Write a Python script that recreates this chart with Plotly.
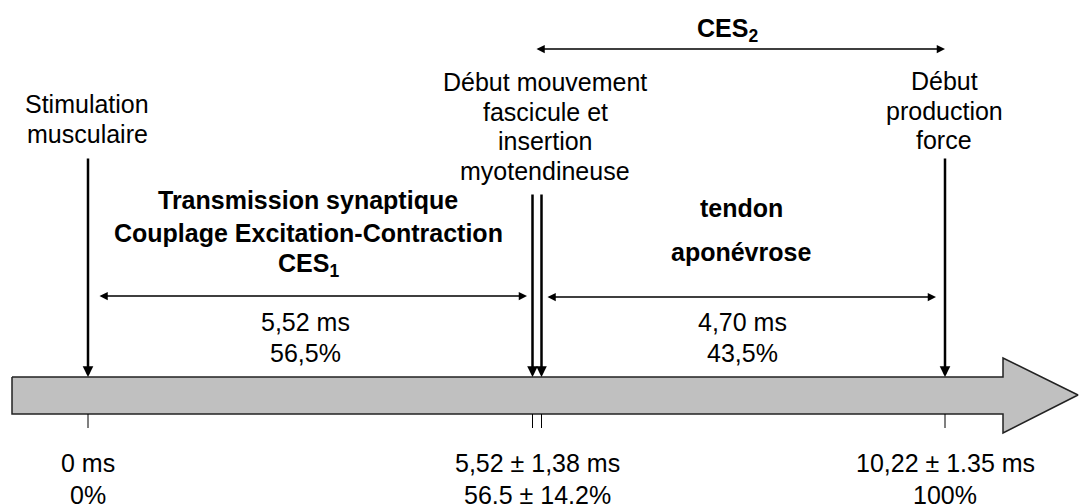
import plotly.graph_objects as go

# ---------------- data ----------------
event_lines = [
    ["Stimulation", "musculaire"],
    ["Début mouvement", "fascicule et", "insertion", "myotendineuse"],
    ["Début", "production", "force"],
]
event_ms = [0.0, 5.52, 10.22]
time_labels = ["0 ms", "5,52 ± 1,38 ms", "10,22 ± 1.35 ms"]
pct_labels = ["0%", "56,5 ± 14,2%", "100%"]
phase_ms = [5.52, 4.70]
phase_pct = [56.5, 43.5]
phase_titles = [
    ["Transmission synaptique", "Couplage Excitation-Contraction", "CES<sub>1</sub>"],
    ["tendon", "aponévrose"],
]
ces2_label = "CES<sub>2</sub>"

# ---------------- layout geometry (schematic, pixel-like units) ----------------
W, H = 1079, 504
event_x = [88, 537, 945]
event_offsets = [[0], [-4.5, 4.5], [0]]
event_arrow_top = [157, 193, 157]
event_text_x = [87, 545, 944]
event_text_y0 = [104, 82, 81]
line_step = 29.5

bar = dict(x0=12, x1=1003, y0=377, y1=414, head_y0=358, head_y1=433, tip_x=1078, tip_y=395)
tick_len = 14

phase_title_x = [308, 741]
phase_title_y = [[200, 233, 265], [208, 252]]
phase_arrow = [(98, 527, 296), (546, 936, 297)]
phase_val_x = [305, 742]
phase_val_y = [322, 353]
ces2_arrow = (535, 945, 49)
ces2_pos = (727, 30)
bottom_y = [463, 495]

FONT = "Liberation Sans, Arial, sans-serif"
FS = 25

fig = go.Figure()

# gray timeline arrow
px = [bar["x0"], bar["x1"], bar["x1"], bar["tip_x"], bar["x1"], bar["x1"], bar["x0"], bar["x0"]]
py = [bar["y0"], bar["y0"], bar["head_y0"], bar["tip_y"], bar["head_y1"], bar["y1"], bar["y1"], bar["y0"]]
fig.add_trace(go.Scatter(x=px, y=py, mode="lines", fill="toself", fillcolor="#C0C0C0",
                         line=dict(color="#222222", width=1.5), hoverinfo="skip", showlegend=False,
                         cliponaxis=False))

def txt(x, y, s, bold=False, size=FS):
    fig.add_annotation(x=x, y=y, xref="x", yref="y", text=f"<b>{s}</b>" if bold else s,
                       showarrow=False, xanchor="center", yanchor="middle",
                       font=dict(family=FONT, size=size, color="black"))

def arrow(x0, y0, x1, y1, width, size, both=False):
    fig.add_annotation(x=x1, y=y1, ax=x0, ay=y0, xref="x", yref="y", axref="x", ayref="y",
                       text="", showarrow=True, arrowhead=2, arrowsize=size, arrowwidth=width,
                       arrowcolor="black", arrowside="end+start" if both else "end",
                       startarrowhead=2, startarrowsize=size, standoff=0, startstandoff=0)

# events: down arrows, ticks, labels
for i, ex in enumerate(event_x):
    for off in event_offsets[i]:
        arrow(ex + off, event_arrow_top[i], ex + off, bar["y0"], 2.5, 0.85)
        fig.add_shape(type="line", x0=ex + off, x1=ex + off, y0=bar["y1"], y1=bar["y1"] + tick_len,
                      line=dict(color="black", width=1))
    for j, s in enumerate(event_lines[i]):
        txt(event_text_x[i], event_text_y0[i] + j * line_step, s)
    txt(ex, bottom_y[0], time_labels[i])
    txt(ex, bottom_y[1], pct_labels[i])

# phases
for k in range(2):
    for j, s in enumerate(phase_titles[k]):
        txt(phase_title_x[k], phase_title_y[k][j], s, bold=True)
    a0, a1, ay = phase_arrow[k]
    arrow(a0, ay, a1, ay, 1.5, 1.1, both=True)
    txt(phase_val_x[k], phase_val_y[0], f"{phase_ms[k]:.2f} ms".replace(".", ","))
    txt(phase_val_x[k], phase_val_y[1], f"{phase_pct[k]:.1f}%".replace(".", ","))

# CES2
c0, c1, cy = ces2_arrow
arrow(c0, cy, c1, cy, 1.5, 1.1, both=True)
txt(ces2_pos[0], ces2_pos[1], ces2_label, bold=True)

fig.update_xaxes(range=[0, W], visible=False, fixedrange=True)
fig.update_yaxes(range=[H, 0], visible=False, fixedrange=True)
fig.update_layout(width=W, height=H, margin=dict(l=0, r=0, t=0, b=0),
                  plot_bgcolor="white", paper_bgcolor="white", showlegend=False)

fig.write_html("out.html", config={"displayModeBar": False, "staticPlot": True},
               post_script="document.body.style.margin='0';document.body.style.overflow='hidden';")
